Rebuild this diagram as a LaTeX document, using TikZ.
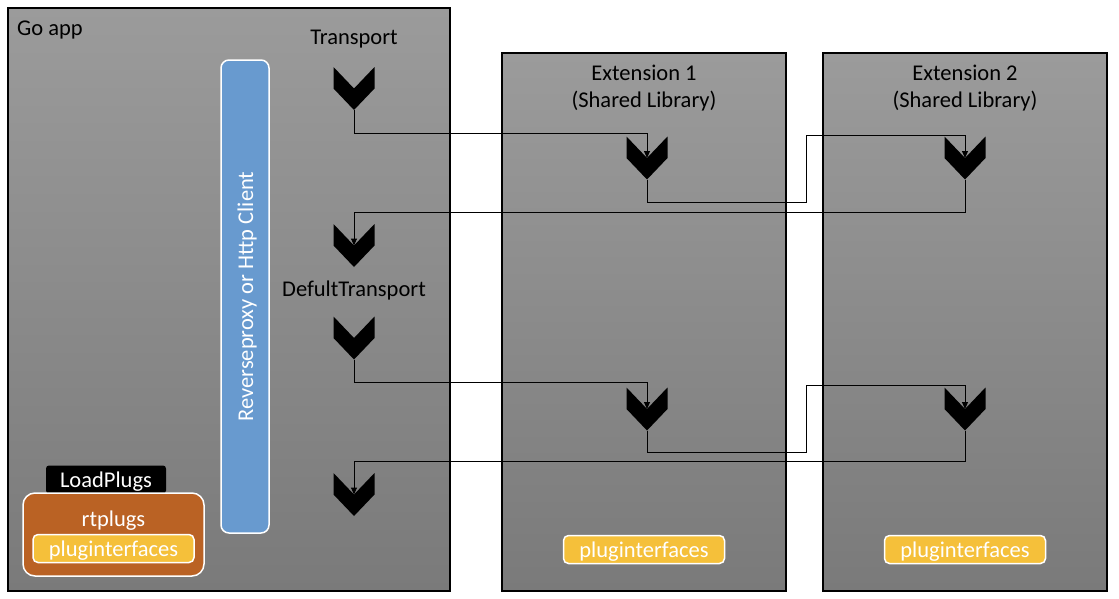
\documentclass[tikz,border=0pt]{standalone}
\usepackage{fontspec}
\setmainfont{Carlito}
\usetikzlibrary{arrows.meta}
\definecolor{gtop}{HTML}{9B9B9B}
\definecolor{gbot}{HTML}{7A7A7A}
\definecolor{pblue}{HTML}{689ACF}
\definecolor{porange}{HTML}{BA6224}
\definecolor{pyellow}{HTML}{F5C03A}
\begin{document}
\begin{tikzpicture}[x=1pt,y=-1pt,
  every node/.style={font=\fontsize{22.5}{27}\selectfont,text height=16pt,text depth=0pt},
  panel/.style={draw=black,line width=1.5pt,top color=gtop,bottom color=gbot,inner sep=0pt},
  chev/.style={minimum width=41pt,minimum height=43pt,inner sep=0pt,
    path picture={\fill[black] (path picture bounding box.north west) -- (path picture bounding box.center) -- (path picture bounding box.north east) -- (path picture bounding box.east) -- (path picture bounding box.south) -- (path picture bounding box.west) -- cycle;}},
  link/.style={draw=black,line width=1pt,-{Triangle[length=7pt,width=6pt]}},
  plug/.style={draw=white,line width=1.5pt,fill=pyellow,rounded corners=5pt,text=white,minimum width=161pt,minimum height=28pt,inner sep=0pt},
  lbl/.style={text=black,inner sep=0pt}]
\useasboundingbox (0,0) rectangle (1119,598);
% panels
\node[panel,minimum width=442pt,minimum height=583pt] (goapp) at (229,299.5) {};
\node[panel,minimum width=284pt,minimum height=538pt] (ext1) at (644,322) {};
\node[panel,minimum width=284pt,minimum height=538pt] (ext2) at (965,322) {};
% titles
\node[lbl,anchor=west] (tgo) at (17,27) {Go app};
\node[lbl] (ttr) at (354,36) {Transport};
\node[lbl] (tdt) at (354,288) {DefultTransport};
\node[lbl] (te1) at (644,72) {Extension 1};
\node[lbl] (te1s) at (644,99) {(Shared Library)};
\node[lbl] (te2) at (965,72) {Extension 2};
\node[lbl] (te2s) at (965,99) {(Shared Library)};
% reverse proxy
\node[draw=white,line width=1.5pt,fill=pblue,rounded corners=8pt,rotate=90,
  minimum width=473pt,minimum height=48pt,inner sep=0pt,text=white] (proxy) at (245,296.5) {Reverseproxy or Http Client};
% plugins
\node[fill=black,rounded corners=3pt,minimum width=120pt,minimum height=28pt,inner sep=0pt,text=white] (load) at (106,479.5) {LoadPlugs};
\node[draw=white,line width=1.5pt,fill=porange,rounded corners=12pt,minimum width=181pt,minimum height=83pt,inner sep=0pt] (rt) at (113.5,534.5) {};
\node[lbl,text=white] (trt) at (113.5,518) {rtplugs};
\node[plug] (pi0) at (113.5,548.5) {pluginterfaces};
\node[plug] (pi1) at (644,549.5) {pluginterfaces};
\node[plug] (pi2) at (965,549.5) {pluginterfaces};
% chevrons
\node[chev] (c1) at (354,88.5) {};
\node[chev] (c2) at (354,245.5) {};
\node[chev] (c3) at (354,338) {};
\node[chev] (c4) at (354,494.5) {};
\node[chev] (e1a) at (647,158) {};
\node[chev] (e2a) at (965,158) {};
\node[chev] (e1b) at (647,409) {};
\node[chev] (e2b) at (965,409) {};
% connectors
\draw[link] (c1.south) -- ++(0,23) -| (e1a.center);
\draw[link] (e1a.south) -- ++(0,23) -| ++(159,-67) -| (e2a.center);
\draw[link] (e2a.south) -- ++(0,33) -| (c2.center);
\draw[link] (c3.south) -- ++(0,23) -| (e1b.center);
\draw[link] (e1b.south) -- ++(0,22) -| ++(159,-67) -| (e2b.center);
\draw[link] (e2b.south) -- ++(0,31) -| (c4.center);
\end{tikzpicture}
\end{document}
